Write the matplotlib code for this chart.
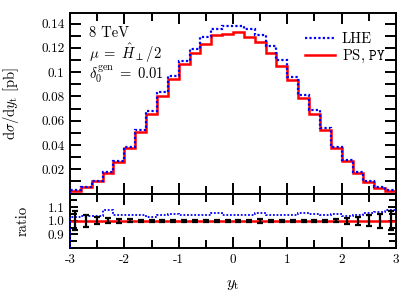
import numpy as np
import matplotlib
matplotlib.use("Agg")
import matplotlib.pyplot as plt
from matplotlib.ticker import MultipleLocator, FixedLocator

plt.rcParams['font.family'] = 'serif'
plt.rcParams['font.serif'] = ['cmr10', 'DejaVu Serif']
plt.rcParams['mathtext.fontset'] = 'cm'
plt.rcParams['axes.unicode_minus'] = False
plt.rcParams['axes.formatter.use_mathtext'] = True

# ---- data ----
bin_edges = np.round(np.arange(-3.0, 3.0001, 0.2), 1)
ps_py = [0.0024, 0.0051, 0.0100, 0.0166, 0.0262, 0.0372, 0.0507, 0.0656, 0.0800, 0.0943,
         0.1066, 0.1155, 0.1233, 0.1307, 0.1317, 0.1327, 0.1286, 0.1245, 0.1155, 0.1054,
         0.0937, 0.0789, 0.0658, 0.0521, 0.0372, 0.0267, 0.0166, 0.0098, 0.0049, 0.0024]
lhe = [0.0029, 0.0055, 0.0106, 0.0176, 0.0272, 0.0386, 0.0524, 0.0677, 0.0838, 0.0972,
       0.1090, 0.1190, 0.1293, 0.1355, 0.1380, 0.1380, 0.1355, 0.1306, 0.1218, 0.1100,
       0.0964, 0.0816, 0.0685, 0.0540, 0.0386, 0.0275, 0.0177, 0.0106, 0.0053, 0.0029]
ratio_lhe = [1.025, 1.035, 1.035, 1.076, 1.045, 1.045, 1.045, 1.028, 1.045, 1.047,
             1.045, 1.045, 1.045, 1.057, 1.045, 1.045, 1.045, 1.057, 1.045, 1.045,
             1.045, 1.060, 1.052, 1.045, 1.050, 1.033, 1.045, 1.060, 1.064, 1.076]
ratio_ps_err = [0.070, 0.045, 0.025, 0.018, 0.013, 0.010, 0.008, 0.007, 0.006, 0.006,
                0.006, 0.006, 0.006, 0.006, 0.006, 0.006, 0.006, 0.015, 0.006, 0.006,
                0.006, 0.006, 0.006, 0.007, 0.010, 0.020, 0.030, 0.040, 0.050, 0.070]
ratio_ps = [1.0] * 30
ytick_labels_top = ['0.02', '0.04', '0.06', '0.08', '0.1', '0.12', '0.14']
ytick_vals_top = [0.02, 0.04, 0.06, 0.08, 0.10, 0.12, 0.14]
ytick_labels_ratio = ['0.9', '1.0', '1.1']
ytick_vals_ratio = [0.9, 1.0, 1.1]

centers = 0.5 * (bin_edges[:-1] + bin_edges[1:])

fig = plt.figure(figsize=(4.15, 2.94), dpi=100)
ax = fig.add_axes([0.1687, 0.3415, 0.7855, 0.6153])
axr = fig.add_axes([0.1687, 0.1565, 0.7855, 0.185], sharex=ax)

blue = '#0000ff'
red = '#ff0000'

ax.stairs(lhe, bin_edges, color=blue, lw=1.6, ls=(0, (1, 1)), label='LHE', zorder=3)
ax.stairs(ps_py, bin_edges, color=red, lw=1.8, label=r'PS, $\mathtt{PY}$', zorder=2)

ax.set_xlim(-3, 3)
ax.set_ylim(0, 0.149)
ax.yaxis.set_major_locator(FixedLocator(ytick_vals_top))
ax.set_yticklabels(ytick_labels_top)
ax.yaxis.set_minor_locator(MultipleLocator(0.01))
ax.xaxis.set_major_locator(MultipleLocator(1))
ax.xaxis.set_minor_locator(MultipleLocator(0.5))
ax.tick_params(labelbottom=False)
ax.set_ylabel(r'$\mathrm{d}\sigma/\mathrm{d}y_{\mathrm{t}}$ [pb]', fontsize=10.5)
ax.yaxis.set_label_coords(-0.150, 0.5)

ax.text(0.058, 0.864, '8 TeV', transform=ax.transAxes, fontsize=10.5, va='baseline')
ax.text(0.058, 0.742, r'$\mu\;=\;\hat{H}_{\perp}/2$', transform=ax.transAxes, fontsize=10.5,
        va='baseline')
ax.text(0.058, 0.632, r'$\delta_0^{\mathrm{gen}}\;=\;0.01$', transform=ax.transAxes, fontsize=10.5,
        va='baseline')

leg = ax.legend(loc='upper right', bbox_to_anchor=(1.0, 0.95), frameon=False, fontsize=10.5,
                handlelength=2.0, handletextpad=0.5, labelspacing=0.15, borderaxespad=0.3)

# ratio panel
axr.plot([-3, 3], [1.0, 1.0], color=red, lw=1.8, zorder=2)
axr.stairs(ratio_lhe, bin_edges, color=blue, lw=1.3, ls=(0, (1, 1)), zorder=3)
axr.errorbar(centers, ratio_ps, yerr=ratio_ps_err, fmt='none', ecolor='black',
             elinewidth=1.6, capsize=2.3, capthick=1.6, zorder=4)
axr.set_ylim(0.8, 1.2)
axr.yaxis.set_major_locator(FixedLocator(ytick_vals_ratio))
axr.set_yticklabels(ytick_labels_ratio)
axr.yaxis.set_minor_locator(MultipleLocator(0.05))
axr.set_ylabel('ratio', fontsize=10.5)
axr.yaxis.set_label_coords(-0.123, 0.5)
axr.set_xlabel(r'$y_{\mathrm{t}}$', fontsize=11.5, labelpad=9)
axr.set_xticks([-3, -2, -1, 0, 1, 2, 3])
axr.set_xticklabels(['-3', '-2', '-1', '0', '1', '2', '3'])

for a in (ax, axr):
    for s in a.spines.values():
        s.set_linewidth(1.4)
    a.tick_params(which='both', direction='in', top=True, right=True, width=1.4,
                  labelsize=9.5, pad=4)
    a.tick_params(which='major', length=8)
    a.tick_params(which='minor', length=6)
ax.tick_params(axis='y', which='minor', length=8)
axr.tick_params(axis='y', which='major', length=6)
axr.tick_params(axis='y', which='minor', length=5)

fig.savefig('out.png', dpi=100)
